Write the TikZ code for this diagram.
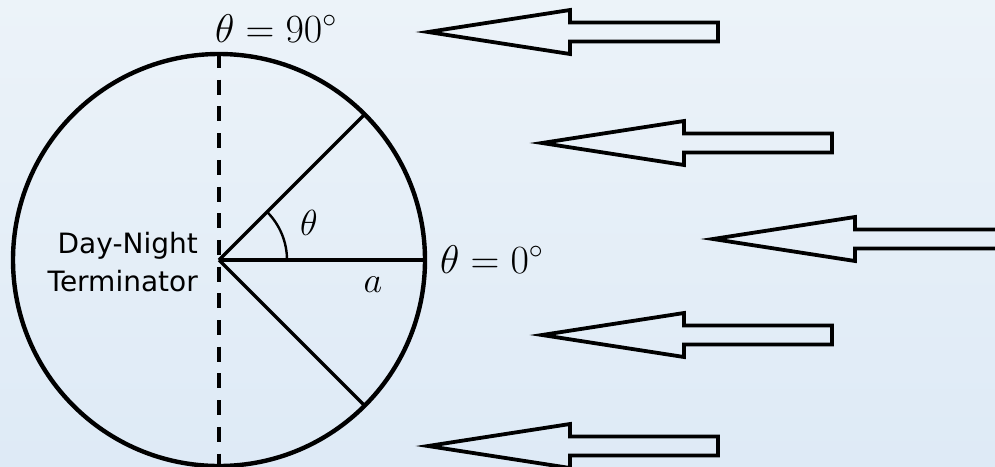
\documentclass[tikz,border=0pt]{standalone}
\usepackage{fontspec}
\usepackage{graphicx}
\newfontfamily\labelfont{DejaVu Sans}
\definecolor{bgtop}{RGB}{236,243,249}
\definecolor{bgbot}{RGB}{222,234,246}
\newcommand{\bigmath}[2]{\scalebox{#1}{\fontsize{20.74}{25}\selectfont$#2$}}
\tikzset{
  rim/.style={line width=4.4pt},
  spoke/.style={line width=3.4pt},
  termline/.style={line width=3.6pt, dash pattern=on 15pt off 11.7pt},
  sunarrow/.pic={\draw[line width=3.8pt, line join=miter]
      (0,0) -- (142,-22) -- (142,-9.5) -- (290,-9.5) -- (290,9.5) -- (142,9.5) -- (142,22) -- cycle;},
  lbl/.style={inner sep=0pt},
}
\begin{document}
\begin{tikzpicture}[x=1pt,y=-1pt]
\useasboundingbox (0,0) rectangle (995,466);
\clip (0,0) rectangle (995,466);
\shade[top color=bgtop, bottom color=bgbot] (0,0) rectangle (995,466);
\coordinate (O) at (219,260);
\coordinate (top) at (219,53);
\coordinate (bot) at (219,466);
\coordinate (ur) at (364.7,114.3);
\coordinate (lr) at (364.7,405.7);
\coordinate (rr) at (425,260);
\draw[termline] (top) -- (bot);
\draw[rim] (O) circle (206);
\draw[spoke] (O) -- (ur);
\draw[spoke] (O) -- (lr);
\draw[spoke] (O) -- (rr);
\draw[line width=2.4pt] ([xshift=68pt]O) arc[start angle=0, end angle=-45, radius=68];
\node[lbl] (th) at (309,223) {\bigmath{1.75}{\theta}};
\node[lbl, anchor=base] (a) at (373,292) {\bigmath{1.75}{a}};
\node[lbl, anchor=base west] (t90) at (215,42) {\bigmath{1.93}{\theta = 90^\circ}};
\node[lbl, anchor=base west] (t0) at (440,273) {\bigmath{1.93}{\theta = 0^\circ}};
\node[anchor=east, align=right, inner sep=0pt, font=\labelfont\fontsize{28}{38}\selectfont] (term) at (198,262) {Day-Night\\Terminator};
\pic at (428,32) {sunarrow};
\pic at (542,143) {sunarrow};
\pic at (713,239) {sunarrow};
\pic at (542,335) {sunarrow};
\pic at (428,446) {sunarrow};
\end{tikzpicture}
\end{document}
